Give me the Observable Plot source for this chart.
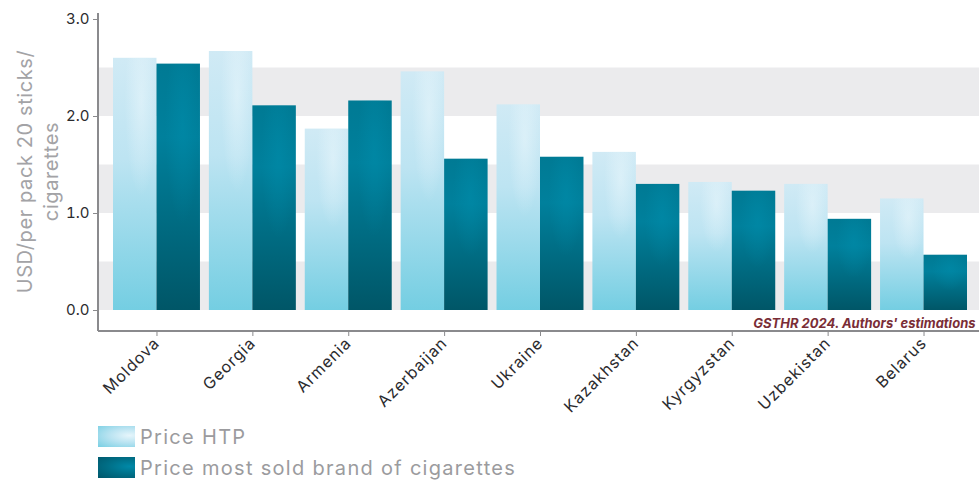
<!DOCTYPE html>
<html>
<head>
<meta charset="utf-8">
<script src="https://cdn.jsdelivr.net/npm/d3@7"></script>
<script src="https://cdn.jsdelivr.net/npm/@observablehq/plot@0.6"></script>
<style>
  body { margin: 0; background: #fff; font-family: Inter, "Noto Sans", sans-serif; }
  #chart svg { display: block; }
  .legend { margin: 6px 0 0 98px; }
  .legend .item { display: flex; align-items: center; height: 21px; margin-bottom: 10px; }
  .legend .sw { width: 37px; height: 21px; margin-right: 5px; }
  .legend .label { font-size: 20px; color: #9b9b9e; letter-spacing: 1.3px; }
</style>
</head>
<body>
<div id="chart"></div>
<div class="legend" id="legend"></div>
<script>
// Retail prices, USD per pack of 20
const countries = ["Moldova", "Georgia", "Armenia", "Azerbaijan", "Ukraine", "Kazakhstan", "Kyrgyzstan", "Uzbekistan", "Belarus"];
const priceHTP = [2.60, 2.67, 1.87, 2.46, 2.12, 1.63, 1.32, 1.30, 1.15];
const priceCigarettes = [2.54, 2.11, 2.16, 1.56, 1.58, 1.30, 1.23, 0.94, 0.57];
const seriesNames = ["Price HTP", "Price most sold brand of cigarettes"];
const yTicks = [0, 1, 2, 3];
const bandRanges = [[0, 0.5], [1, 1.5], [2, 2.5]];
const yLabel = "USD/per pack 20 sticks/\ncigarettes";
const source = "GSTHR 2024. Authors' estimations";

const htp = countries.map((c, i) => ({country: c, value: priceHTP[i]}));
const cig = countries.map((c, i) => ({country: c, value: priceCigarettes[i]}));
const bands = bandRanges.map(([y1, y2]) => ({y1, y2}));

// layout
const W = 979, H = 420;
const mL = 98, mR = 0, mT = 19, mB = 89;
const inL = 15, inR = 12, padIn = 0.093;
const step = (W - mL - mR - inL - inR) / (countries.length - padIn);
const half = step * (1 - padIn) / 2;

const plot = Plot.plot({
  width: W,
  height: H,
  marginLeft: mL,
  marginRight: mR,
  marginTop: mT,
  marginBottom: mB,
  style: {fontFamily: "Inter, 'Noto Sans', sans-serif", background: "#fff"},
  x: {domain: countries, paddingInner: padIn, paddingOuter: 0, insetLeft: inL, insetRight: inR, round: false, label: null},
  y: {domain: [0, 3], insetBottom: 21, label: null},
  marks: [
    Plot.rectY(bands, {y1: "y1", y2: "y2", fill: "#ebebed"}),
    Plot.barY(htp, {x: "country", y: "value", fill: "url(#gHtp)", insetRight: half}),
    Plot.barY(htp, {x: "country", y: "value", fill: "url(#gHtpGlow)", insetRight: half}),
    Plot.barY(cig, {x: "country", y: "value", fill: "url(#gCig)", insetLeft: half}),
    Plot.barY(cig, {x: "country", y: "value", fill: "url(#gCigGlow)", insetLeft: half}),
    Plot.axisY({ticks: yTicks, tickFormat: d3.format(".1f"), tickSize: 5, tickPadding: 4, fontSize: 15, color: "#2b2b2e", stroke: "#8a8a8d"}),
    Plot.axisX({tickRotate: -45, tickSize: 5, tickPadding: 4, fontSize: 16, color: "#2b2b2e", stroke: "#8a8a8d"}),
    Plot.text([yLabel], {frameAnchor: "left", rotate: -90, dx: -62, dy: -4, lineAnchor: "middle", textAnchor: "middle", fontSize: 20, fill: "#a3a3a6", lineHeight: 1.3}),
    Plot.text([source], {frameAnchor: "bottom-right", dx: -4, dy: -4, fontSize: 13, fontWeight: "bold", fontStyle: "italic", fill: "#7a2d36", lineAnchor: "bottom"})
  ]
});

const svg = d3.select(plot);

// looser tracking on the category and axis-title text
svg.selectAll("[aria-label='x-axis tick label'] text").style("letter-spacing", "1px");
svg.selectAll("g[aria-label='text']").filter((d, i) => i === 0).selectAll("text").style("letter-spacing", "0.6px");

// gradient definitions used by the bars
const defs = svg.insert("defs", ":first-child");
function linear(id, stops) {
  const g = defs.append("linearGradient").attr("id", id).attr("x1", 0).attr("y1", 0).attr("x2", 0).attr("y2", 1);
  stops.forEach(([o, c]) => g.append("stop").attr("offset", o).attr("stop-color", c));
}
function radial(id, cx, cy, r, color, opacity) {
  const g = defs.append("radialGradient").attr("id", id).attr("cx", cx).attr("cy", cy).attr("r", r);
  g.append("stop").attr("offset", 0).attr("stop-color", color).attr("stop-opacity", opacity);
  g.append("stop").attr("offset", 1).attr("stop-color", color).attr("stop-opacity", 0);
}
linear("gHtp", [[0, "#d0eaf5"], [0.4, "#bde4f2"], [1, "#74cee2"]]);
radial("gHtpGlow", 0.65, 0.17, 0.38, "#eaf7fc", 0.55);
linear("gCig", [[0, "#007a94"], [0.3, "#00809c"], [1, "#005667"]]);
radial("gCigGlow", 0.6, 0.25, 0.4, "#008fae", 0.45);

// axis lines along the left and bottom of the frame
const axisColor = "#8a8a8d";
svg.append("line").attr("x1", mL).attr("x2", mL).attr("y1", mT - 6).attr("y2", H - mB)
  .attr("stroke", axisColor).attr("stroke-width", 2);
svg.append("line").attr("x1", mL).attr("x2", W).attr("y1", H - mB).attr("y2", H - mB)
  .attr("stroke", axisColor).attr("stroke-width", 2);

document.getElementById("chart").appendChild(plot);

// legend
const swatches = [
  "radial-gradient(ellipse at 85% 45%, #e6f5fb 0%, #b9e3f1 45%, #78cfe3 100%)",
  "radial-gradient(ellipse at 85% 45%, #0089a8 0%, #006e86 50%, #00566a 100%)"
];
const legend = d3.select("#legend");
seriesNames.forEach((name, i) => {
  const item = legend.append("div").attr("class", "item");
  item.append("div").attr("class", "sw").style("background", swatches[i]);
  item.append("span").attr("class", "label").text(name);
});
</script>
</body>
</html>
